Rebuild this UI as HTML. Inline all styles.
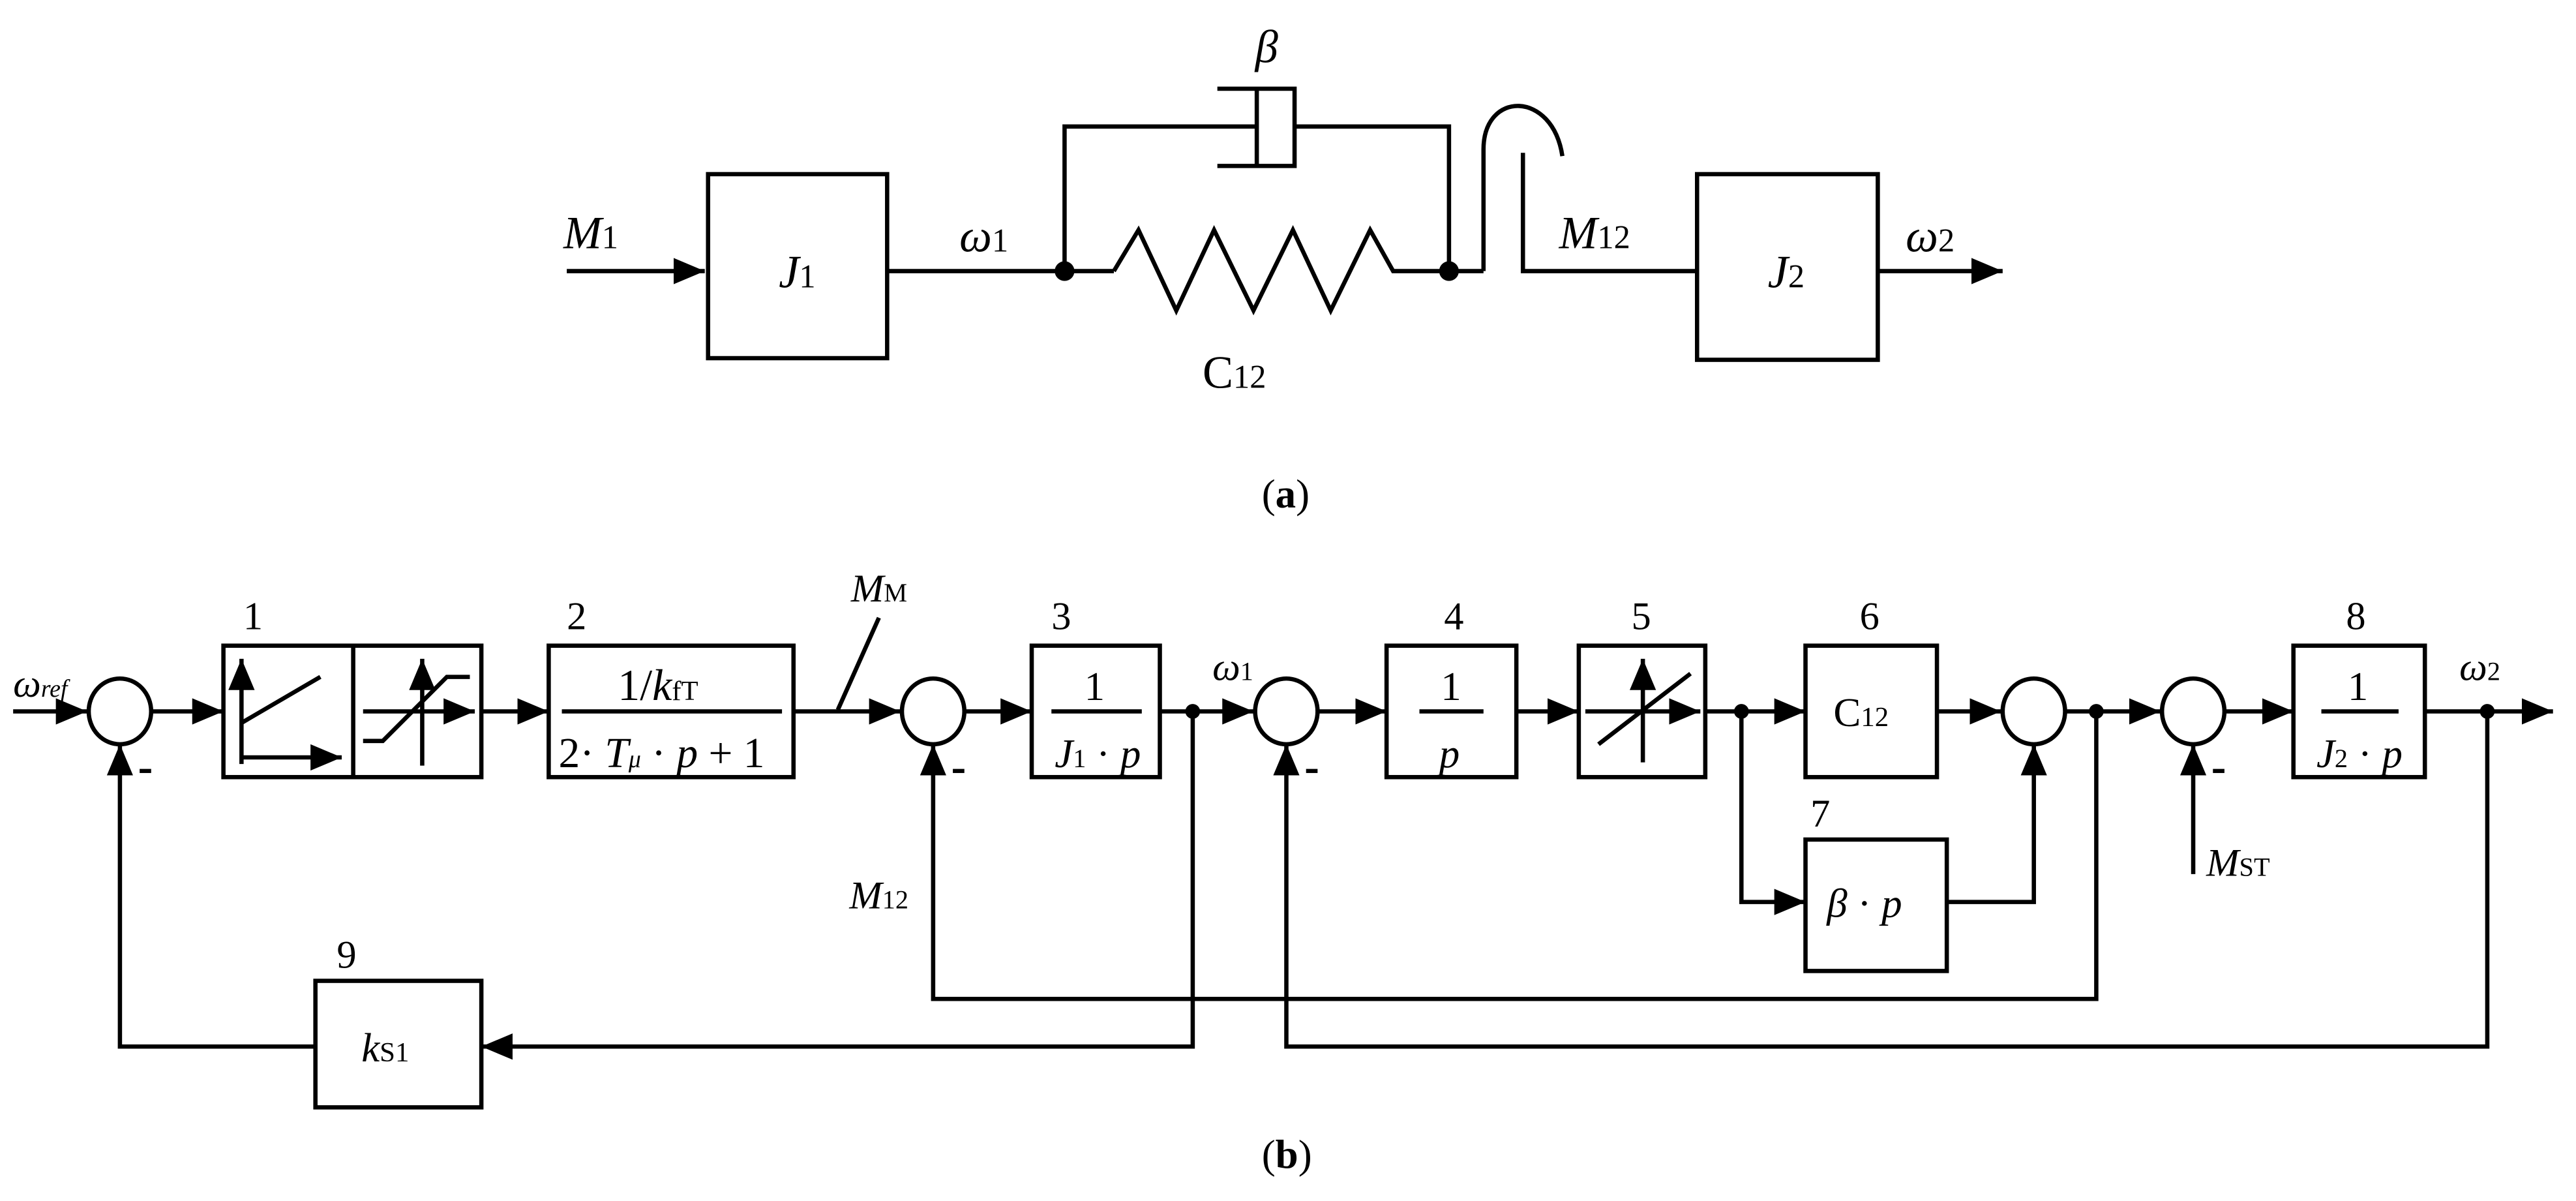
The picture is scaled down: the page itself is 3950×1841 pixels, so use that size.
<!DOCTYPE html>
<html><head><meta charset="utf-8"><style>
html,body{margin:0;padding:0;background:#fff;}
svg{display:block;}
text{font-family:"Liberation Serif",serif;fill:#000;}
.i{font-style:italic;}
</style></head><body>
<svg width="3950" height="1841" viewBox="0 0 1568 731" preserveAspectRatio="none" xmlns="http://www.w3.org/2000/svg">
<defs>
<marker id="a" markerWidth="19" markerHeight="16" refX="19" refY="8" orient="auto" markerUnits="userSpaceOnUse">
<path d="M0,0 L19,8 L0,16 Z" fill="#000"/></marker>
</defs>
<g fill="none" stroke="#000" stroke-width="2.6" stroke-linejoin="miter">
<line x1="345" y1="165" x2="429" y2="165" marker-end="url(#a)"/>
<rect x="431" y="106" width="109" height="112"/>
<line x1="540" y1="165" x2="678" y2="165"/>
<polyline points="678,165 693,140 716,189 739,140 763,189 787,140 810,189 834,140 848,165 903,165"/>
<polyline points="648,165 648,77 765,77"/>
<line x1="765" y1="54" x2="765" y2="101"/>
<polyline points="741,54 788,54 788,101 741,101"/>
<polyline points="788,77 882,77 882,165"/>
<path d="M903,165 V91 C903,55 945,55 951,95"/>
<polyline points="927,93 927,165 1033,165"/>
<rect x="1033" y="106" width="110" height="113"/>
<line x1="1143" y1="165" x2="1219" y2="165" marker-end="url(#a)"/>

<line x1="8" y1="433" x2="53" y2="433" marker-end="url(#a)"/>
<ellipse cx="73" cy="433" rx="19" ry="20"/>
<line x1="92" y1="433" x2="136" y2="433" marker-end="url(#a)"/>
<rect x="136" y="393" width="157" height="80"/>
<line x1="215" y1="393" x2="215" y2="473"/>
<line x1="147" y1="465" x2="147" y2="401" marker-end="url(#a)"/>
<line x1="147" y1="461" x2="208" y2="461" marker-end="url(#a)"/>
<line x1="147" y1="440" x2="195" y2="412"/>
<line x1="221" y1="433" x2="289" y2="433" marker-end="url(#a)"/>
<line x1="257" y1="466" x2="257" y2="401" marker-end="url(#a)"/>
<polyline points="221,451 233,451 272,412 286,412"/>
<line x1="293" y1="433" x2="334" y2="433" marker-end="url(#a)"/>
<rect x="334" y="393" width="149" height="80"/>
<line x1="342" y1="433" x2="476" y2="433"/>
<line x1="483" y1="433" x2="548" y2="433" marker-end="url(#a)"/>
<line x1="510" y1="432" x2="535" y2="376"/>
<ellipse cx="568" cy="433" rx="19" ry="20"/>
<line x1="587" y1="433" x2="628" y2="433" marker-end="url(#a)"/>
<rect x="628" y="393" width="78" height="80"/>
<line x1="640" y1="433" x2="695" y2="433"/>
<line x1="706" y1="433" x2="763" y2="433" marker-end="url(#a)"/>
<ellipse cx="783" cy="433" rx="19" ry="20"/>
<line x1="802" y1="433" x2="844" y2="433" marker-end="url(#a)"/>
<rect x="844" y="393" width="79" height="80"/>
<line x1="864" y1="433" x2="903" y2="433"/>
<line x1="923" y1="433" x2="961" y2="433" marker-end="url(#a)"/>
<rect x="961" y="393" width="77" height="80"/>
<line x1="965" y1="433" x2="1035" y2="433" marker-end="url(#a)"/>
<line x1="1000" y1="464" x2="1000" y2="401" marker-end="url(#a)"/>
<line x1="973" y1="453" x2="1029" y2="410"/>
<line x1="1038" y1="433" x2="1099" y2="433" marker-end="url(#a)"/>
<rect x="1099" y="393" width="80" height="80"/>
<line x1="1179" y1="433" x2="1218" y2="433" marker-end="url(#a)"/>
<ellipse cx="1238" cy="433" rx="19" ry="20"/>
<line x1="1257" y1="433" x2="1315" y2="433" marker-end="url(#a)"/>
<ellipse cx="1335" cy="433" rx="19" ry="20"/>
<line x1="1354" y1="433" x2="1396" y2="433" marker-end="url(#a)"/>
<rect x="1396" y="393" width="80" height="80"/>
<line x1="1413" y1="433" x2="1460" y2="433"/>
<line x1="1476" y1="433" x2="1554" y2="433" marker-end="url(#a)"/>
<polyline points="1060,433 1060,549 1099,549" marker-end="url(#a)"/>
<rect x="1099" y="511" width="86" height="80"/>
<polyline points="1185,549 1238,549 1238,453" marker-end="url(#a)"/>
<line x1="1335" y1="532" x2="1335" y2="453" marker-end="url(#a)"/>
<polyline points="726,433 726,637 293,637" marker-end="url(#a)"/>
<rect x="192" y="597" width="101" height="77"/>
<polyline points="192,637 73,637 73,453" marker-end="url(#a)"/>
<polyline points="1276,433 1276,608 568,608 568,453" marker-end="url(#a)"/>
<polyline points="1514,433 1514,637 783,637 783,453" marker-end="url(#a)"/>
</g>
<g fill="#000">
<circle cx="648" cy="165" r="6"/><circle cx="882" cy="165" r="6"/>
<circle cx="726" cy="433" r="4.5"/><circle cx="1060" cy="433" r="4.5"/>
<circle cx="1276" cy="433" r="4.5"/><circle cx="1514" cy="433" r="4.5"/>
<rect x="85" y="468" width="7" height="2.5"/><rect x="580" y="468" width="7" height="2.5"/>
<rect x="795" y="468" width="7" height="2.5"/><rect x="1347" y="468" width="7" height="2.5"/>
</g>
<g font-size="28">
<text x="343" y="151" class="i">M<tspan font-style="normal" font-size="20">1</tspan></text>
<text x="474" y="175" class="i">J<tspan font-style="normal" font-size="20">1</tspan></text>
<text x="584" y="153" class="i">ω<tspan font-style="normal" font-size="20">1</tspan></text>
<text x="764" y="38" class="i">β</text>
<text x="732" y="236" >C<tspan font-size="20">12</tspan></text>
<text x="949" y="151" class="i">M<tspan font-style="normal" font-size="20">12</tspan></text>
<text x="1076" y="175" class="i">J<tspan font-style="normal" font-size="20">2</tspan></text>
<text x="1160" y="153" class="i">ω<tspan font-style="normal" font-size="20">2</tspan></text>
<text x="768" y="309" font-size="25">(<tspan font-weight="bold">a</tspan>)</text>
<text x="768" y="711" font-size="25">(<tspan font-weight="bold">b</tspan>)</text>
</g>
<g font-size="24">
<text x="8" y="424" class="i">ω<tspan font-size="15">ref</tspan></text>
<text x="148" y="383">1</text><text x="345" y="383">2</text><text x="640" y="383">3</text>
<text x="879" y="383">4</text><text x="993" y="383">5</text><text x="1132" y="383">6</text>
<text x="1102" y="503">7</text><text x="1428" y="383">8</text><text x="205" y="589">9</text>
<text x="518" y="366" class="i">M<tspan font-style="normal" font-size="16">M</tspan></text>
<text x="738" y="414" class="i">ω<tspan font-style="normal" font-size="16">1</tspan></text>
<text x="1497" y="414" class="i">ω<tspan font-style="normal" font-size="16">2</tspan></text>
<text x="517" y="553" class="i">M<tspan font-style="normal" font-size="16">12</tspan></text>
<text x="1343" y="533" class="i">M<tspan font-style="normal" font-size="16">ST</tspan></text>
<text x="376" y="426" font-size="27">1/<tspan class="i">k</tspan><tspan font-size="17">fT</tspan></text>
<text x="340" y="467" font-size="26">2· <tspan class="i">T<tspan font-size="15">μ</tspan></tspan> · <tspan class="i">p</tspan> + 1</text>
<text x="660" y="426" font-size="25">1</text>
<text x="642" y="467" font-size="25"><tspan class="i">J</tspan><tspan font-size="16">1</tspan> · <tspan class="i">p</tspan></text>
<text x="877" y="426" font-size="25">1</text>
<text x="876" y="467" class="i" font-size="25">p</text>
<text x="1116" y="442" font-size="25">C<tspan font-size="17">12</tspan></text>
<text x="1112" y="558" class="i" font-size="25">β <tspan font-style="normal">·</tspan> p</text>
<text x="1429" y="426" font-size="25">1</text>
<text x="1410" y="467" font-size="25"><tspan class="i">J</tspan><tspan font-size="16">2</tspan> · <tspan class="i">p</tspan></text>
<text x="220" y="646" class="i" font-size="25">k<tspan font-style="normal" font-size="17">S1</tspan></text>
</g>
</svg>
</body></html>
